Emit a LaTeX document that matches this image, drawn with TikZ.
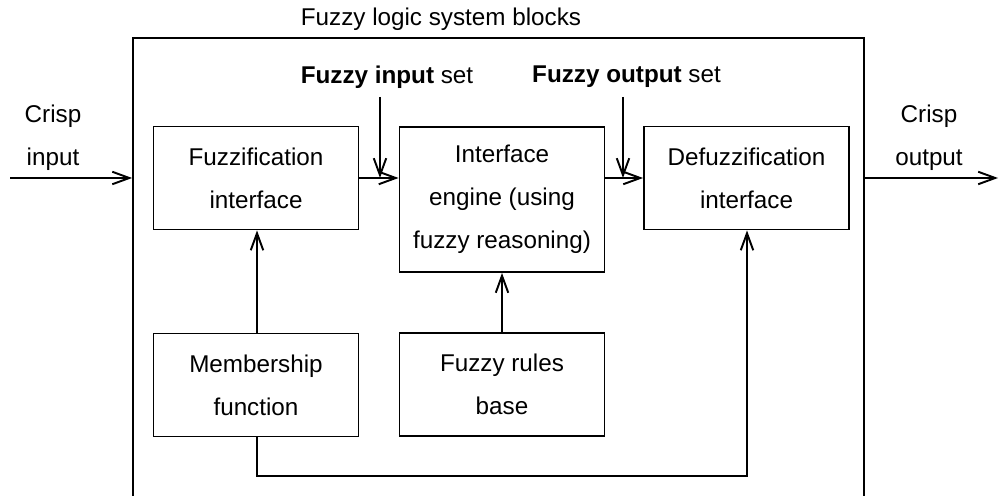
\documentclass[tikz,border=0pt]{standalone}
\usepackage{fontspec}
\setmainfont{Liberation Sans}
\usetikzlibrary{arrows.meta, positioning}

\begin{document}
\begin{tikzpicture}[
    x=0.02cm, y=-0.02cm,
    font=\fontsize{13.8}{24.4}\selectfont,
    block/.style={draw, line width=1.1pt, minimum width=4.1cm, minimum height=2.06cm, align=center, inner sep=0pt},
    link/.style={draw, line width=1.1pt, -{Straight Barb[length=3.4mm, width=2.5mm, line width=1.1pt]}},
    lbl/.style={align=center, inner sep=0pt}
]
    \clip (0,0) rectangle (1000,496);

    % outer frame and its title
    \node[draw, line width=1.1pt, minimum width=14.62cm, minimum height=9.64cm, inner sep=0pt] (sys) at (498.5,279) {};
    \node[lbl] (title) at (441,19) {Fuzzy logic system blocks};

    % main blocks
    \node[block] (fuz) at (256,178) {Fuzzification\\interface};
    \node[block, minimum height=2.9cm] (eng) at (502,199.5) {Interface\\engine (using\\fuzzy reasoning)};
    \node[block] (defuz) at (746.5,178) {Defuzzification\\interface};
    \node[block] (mem) at (256,385) {Membership\\function};
    \node[block] (rules) at (502,384.5) {Fuzzy rules\\base};

    % crisp signals
    \coordinate (cin) at (10,178);
    \coordinate (cout) at (998,178);
    \node[lbl] (cinlbl) at (53,138) {Crisp\\input};
    \node[lbl] (coutlbl) at (929,138) {Crisp\\output};
    \draw[link] (cin) -- (cin -| sys.west);
    \draw[link] (cout -| sys.east) -- (cout);

    % fuzzy sets between blocks
    \node[lbl] (finlbl) at (387,77) {\textbf{Fuzzy input} set};
    \node[lbl] (foutlbl) at (626.5,77) {\textbf{Fuzzy output} set};
    \coordinate (fin) at (380,97);
    \coordinate (fout) at (623,97);
    \draw[link] (fuz.east |- cin) -- (eng.west |- cin);
    \draw[link] (eng.east |- cin) -- (defuz.west |- cin);
    \draw[link] (fin) -- (fin |- cin);
    \draw[link] (fout) -- (fout |- cin);

    % feedback from membership and rules
    \coordinate (mx) at (257,476);
    \coordinate (dx) at (747,476);
    \draw[link] (mem.north -| mx) -- (fuz.south -| mx);
    \draw[link] (rules) -- (eng);
    \draw[link] (mem.south -| mx) -- (mx) -- (dx) -- (defuz.south -| dx);
\end{tikzpicture}
\end{document}
